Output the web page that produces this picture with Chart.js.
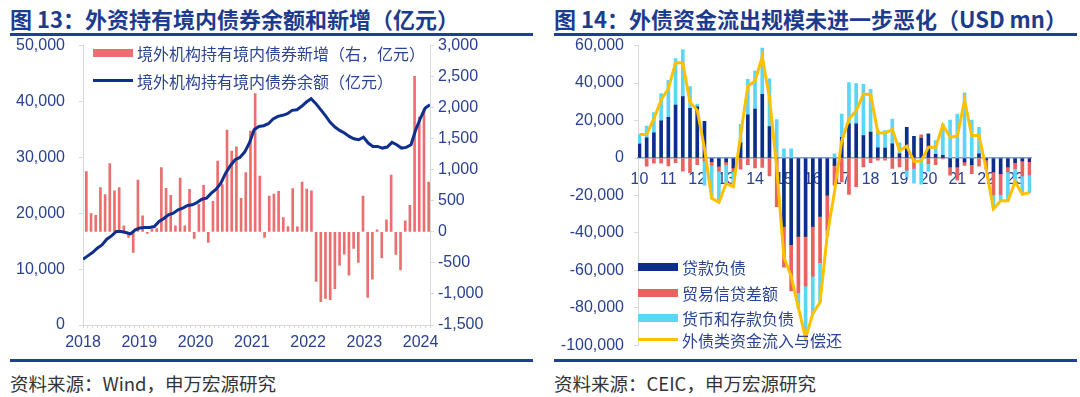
<!DOCTYPE html>
<html>
<head>
<meta charset="utf-8">
<script src="https://cdn.jsdelivr.net/npm/chart.js@4.4.1/dist/chart.umd.min.js"></script>
<style>
  body { margin: 0; width: 1080px; height: 397px; background: #fff; position: relative; overflow: hidden; font-family: 'Noto Sans CJK SC', sans-serif; }
  .title { position: absolute; top: 8px; font-size: 22px; line-height: 21px; font-weight: bold; color: #1d3b8e; white-space: nowrap; }
  .rule { position: absolute; height: 3px; width: 523px; background: #1f3f95; }
  .src { position: absolute; top: 374px; font-size: 18.5px; line-height: 18px; color: #333; white-space: nowrap; }
  .legend { position: absolute; font-size: 16px; line-height: 20px; color: #2b4494; white-space: nowrap; padding-left: 44px; height: 20px; }
  .legend i { position: absolute; left: 0; width: 40px; }
  canvas { position: absolute; }
</style>
</head>
<body>
<div class="title" style="left:10px">图 13：外资持有境内债券余额和新增（亿元）</div>
<div class="title" style="left:554px">图 14：外债资金流出规模未进一步恶化（USD mn）</div>
<div class="rule" style="left:10px;top:33px"></div>
<div class="rule" style="left:554px;top:33px"></div>

<canvas id="bondChart" width="540" height="343" style="left:0;top:22px"></canvas>
<canvas id="flowChart" width="540" height="339" style="left:540px;top:26px"></canvas>

<!-- legends -->
<div class="legend" style="left:93px;top:43px"><i style="top:6px;height:8px;background:#ec6f6f"></i>境外机构持有境内债券新增（右，亿元）</div>
<div class="legend" style="left:93px;top:71px"><i style="top:8px;height:3px;background:#0e2f8e"></i>境外机构持有境内债券余额（亿元）</div>

<div class="legend" style="left:638px;top:257px"><i style="top:6px;height:8px;background:#0b2d8c"></i>贷款负债</div>
<div class="legend" style="left:638px;top:283px"><i style="top:6px;height:8px;background:#e8625f"></i>贸易信贷差额</div>
<div class="legend" style="left:638px;top:308px"><i style="top:6px;height:8px;background:#5cd6f8"></i>货币和存款负债</div>
<div class="legend" style="left:638px;top:330px"><i style="top:8px;height:3px;background:#ffc000"></i>外债类资金流入与偿还</div>

<div class="rule" style="left:10px;top:359px"></div>
<div class="rule" style="left:554px;top:359px"></div>
<div class="src" style="left:10px">资料来源：Wind，申万宏源研究</div>
<div class="src" style="left:554px">资料来源：CEIC，申万宏源研究</div>

<script>
// 图13：2018-01 ~ 2024-02，月度
const bondYears = ['2018', '2019', '2020', '2021', '2022', '2023', '2024'];
// 境外机构持有境内债券新增（右轴，亿元）
const bondNew = [
  969, 295, 268, 712, 600, 1098, 659, 712, 96, -91, -332, 835,
  257, -27, 43, 54, 1034, 702, 589, 96, 868, 96, 686, -107,
  445, 750, -171, 493, 1141, 761, 1639, 1302, 1371, 541, 953, 1623,
  2228, 900, -91, 578, 610, 653, 230, 86, 696, 80, 803, 691,
  659, -798, -1125, -1071, -1093, -916, -536, -359, -696, -268, -493, 578,
  -1055, -761, 32, -418, 193, 916, -364, -611, 177, 428, 2507, 1850,
  1980, 803
];
// 境外机构持有境内债券余额（左轴，亿元）
const bondStock = [
  11770, 12370, 12960, 13740, 14340, 15350, 15950, 16730, 16730, 16550, 16310, 17030,
  17380, 17440, 17440, 17620, 18520, 19060, 19710, 20010, 20610, 20910, 21390, 21510,
  21920, 22520, 22700, 23600, 24310, 25390, 27180, 28500, 29570, 29990, 30940, 32560,
  34950, 35540, 35660, 36020, 36860, 37340, 37520, 37810, 38410, 38530, 39130, 39900,
  40500, 39610, 38530, 37460, 36260, 35420, 34830, 34350, 33750, 33330, 33150, 33630,
  32560, 31960, 31960, 31660, 31840, 32680, 32260, 31660, 31780, 32260, 34950, 37040,
  38830, 39430
];

// 图14：2010Q1 ~ 2023Q3，季度（USD mn）
const flowYears = ['10', '11', '12', '13', '14', '15', '16', '17', '18', '19', '20', '21', '22', '23'];
const loans = [
  7500, 10800, 13400, 19900, 21700, 28200, 32800, 26500, 27300, 19600, -2000, -4400,
  -2100, -5300, 8100, 23100, 26100, 34000, 16800, 0, -36500, -46200, -41800, -41800,
  -36500, -31200, -19800, -3900, 11100, 18200, 18200, 12000, 13800, 5500, 5300, 7600,
  2300, 16400, 11600, 10500, 12900, 2000, 1500, -4800, -4800, -2100, -3500, 2300,
  -1000, -7400, -8300, -4800, -2500, -1500, -2000
];
const tradeCredit = [
  0, -4400, -2700, -2800, -4200, -2500, -7000, -7800, -3500, -1500, -1800, -2600,
  -1500, -2000, -6000, -3500, -5300, -5000, -9500, -26000, -21700, -24700, -30000, -26500,
  -26500, -24700, -18500, -10600, -12700, -19400, -15300, -4800, -2500, -1200, -1200, -5600,
  -4800, -6500, -5600, 1900, -3000, -3500, -500, -4400, -7000, -1800, -4800, -4400,
  -5000, -12300, -11100, -2600, -3200, -8000, -7000
];
const deposits = [
  5000, 6200, 10900, 14500, 19700, 24900, 25100, 11600, 1500, -13000, -17700, -16600,
  -10000, -8000, 9900, 18900, 20300, 24700, 25500, 20500, 4900, 4900, -8200, -28200,
  -20000, -21000, -2700, 2300, 12400, 22000, 21500, 27300, 22900, 9300, 9300, 13200,
  5800, -3600, -7800, -14000, -4100, 7300, 16600, 20300, 23400, 34800, 20300, 14100,
  0, -7000, -3000, -15000, -7000, -9800, -9500
];
const debtFlow = [
  12500, 12500, 21000, 31000, 37000, 50800, 50800, 29600, 25500, 5100, -21500, -23600,
  -13600, -15300, 12000, 38500, 41100, 54000, 32000, -5000, -53000, -63000, -80000, -96000,
  -83000, -77000, -41000, -18000, 9000, 20800, 25200, 34000, 34000, 13500, 13300, 15200,
  4000, 6300, -1800, -1600, 5800, 5800, 17600, 11100, 11600, 30900, 12000, 12000,
  -6000, -27200, -22800, -22800, -12700, -19300, -18500
];

Chart.defaults.font.family = "'Liberation Sans', 'Noto Sans CJK SC', sans-serif";
Chart.defaults.font.size = 16;
Chart.defaults.color = '#2a4190';
Chart.defaults.animation = false;

const axisGray = '#d9d9d9';
const noLegend = { legend: { display: false }, tooltip: { enabled: false } };

// 左图
new Chart(document.getElementById('bondChart'), {
  type: 'bar',
  data: {
    datasets: [
      {
        type: 'line',
        label: '境外机构持有境内债券余额（亿元）',
        data: bondStock.map((v, i) => ({ x: i, y: v })),
        xAxisID: 'x2',
        yAxisID: 'y',
        borderColor: '#0e2f8e',
        borderWidth: 3,
        pointRadius: 0,
        tension: 0,
        order: 0,
      },
      {
        label: '境外机构持有境内债券新增（右，亿元）',
        data: bondNew.map((v, i) => ({ x: i + 0.5, y: v })),
        xAxisID: 'x',
        yAxisID: 'y1',
        backgroundColor: '#ec6f6f',
        barThickness: 2,
        order: 1,
      },
    ],
  },
  options: {
    responsive: false,
    locale: 'en-US',
    layout: { padding: 0 },
    plugins: noLegend,
    scales: {
      x: {
        type: 'linear',
        offset: false,
        min: 0,
        max: bondNew.length,
        afterBuildTicks: (axis) => {
          const ticks = [];
          for (let i = 0; i <= bondNew.length; i++) ticks.push({ value: i });
          axis.ticks = ticks;
        },
        ticks: {
          autoSkip: false,
          maxRotation: 0,
          padding: 5,
          callback: (v) => (v % 12 === 0 ? bondYears[v / 12] : ''),
        },
        grid: { drawOnChartArea: false, offset: false, tickLength: 3, color: axisGray },
        border: { color: axisGray },
        afterFit: (s) => { s.height = 40; },
      },
      x2: { type: 'linear', offset: false, min: 0, max: bondStock.length - 1, display: false },
      y: {
        min: 0,
        max: 50000,
        ticks: { stepSize: 10000, padding: 14 },
        grid: { drawOnChartArea: false, tickLength: 4, color: axisGray },
        border: { color: axisGray },
        afterFit: (s) => { s.width = 83; },
      },
      y1: {
        position: 'right',
        min: -1500,
        max: 3000,
        ticks: { stepSize: 500, padding: 4 },
        grid: { drawOnChartArea: false, tickLength: 4, color: axisGray },
        border: { color: axisGray },
        afterFit: (s) => { s.width = 110; },
      },
    },
  },
});

// 右图
const barStyle = { stack: 'flow', barThickness: 3, order: 1, yAxisID: 'y' };
new Chart(document.getElementById('flowChart'), {
  type: 'bar',
  data: {
    datasets: [
      {
        type: 'line',
        label: '外债类资金流入与偿还',
        data: debtFlow.map((v, i) => ({ x: i, y: v })),
        stack: 'line',
        borderColor: '#ffc000',
        borderWidth: 3,
        pointRadius: 0,
        tension: 0,
        order: 0,
      },
      { ...barStyle, label: '贷款负债', data: loans.map((v, i) => ({ x: i, y: v })), backgroundColor: '#0b2d8c' },
      { ...barStyle, label: '贸易信贷差额', data: tradeCredit.map((v, i) => ({ x: i, y: v })), backgroundColor: '#e8625f' },
      { ...barStyle, label: '货币和存款负债', data: deposits.map((v, i) => ({ x: i, y: v })), backgroundColor: '#5cd6f8' },
    ],
  },
  options: {
    responsive: false,
    locale: 'en-US',
    layout: { padding: { right: 49 } },
    plugins: noLegend,
    scales: {
      x: {
        type: 'linear',
        position: { y: 0 },
        offset: false,
        stacked: true,
        min: -0.2,
        max: loans.length - 1 + 0.2,
        afterBuildTicks: (axis) => {
          axis.ticks = flowYears.map((_, k) => ({ value: k * 4 }));
        },
        ticks: { autoSkip: false, maxRotation: 0, padding: 12, callback: (v) => flowYears[v / 4] },
        grid: { drawOnChartArea: false, drawTicks: false, offset: false },
        border: { color: '#7f9fd4', width: 1.5 },
      },
      y: {
        stacked: true,
        min: -100000,
        max: 60000,
        ticks: { stepSize: 20000, padding: 10 },
        grid: { drawOnChartArea: false, tickLength: 4, color: axisGray },
        border: { color: axisGray },
        afterFit: (s) => { s.width = 98; },
      },
    },
  },
});
</script>
</body>
</html>
